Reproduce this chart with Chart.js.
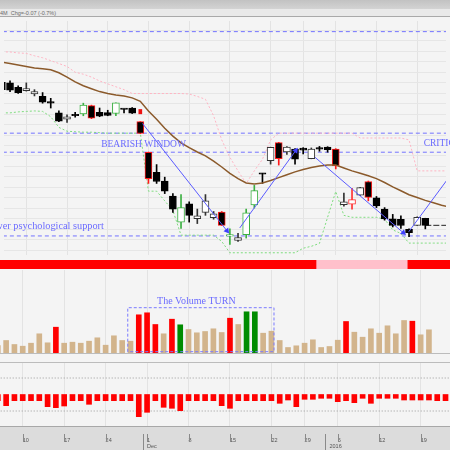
<!DOCTYPE html>
<html>
<head>
<meta charset="utf-8">
<title>Daily candles with volume</title>
<script src="https://cdn.jsdelivr.net/npm/chart.js@4.4.1/dist/chart.umd.min.js"></script>
<style>
  html, body { margin: 0; padding: 0; background: #f4f4f4; }
  #board { position: relative; width: 450px; height: 450px; overflow: hidden; background: #f4f4f4; }
  #board canvas { position: absolute; left: 0; }
  .head {
    position: absolute; left: 0; top: 0; width: 450px; height: 16px;
    background: linear-gradient(#c2c2c2, #d3d3d3 9px, #e9e9e9 9px, #e9e9e9);
    border-bottom: 1px solid #a9a9a9;
  }
  .head span {
    position: absolute; left: 0; top: 10px; white-space: nowrap;
    font: 5.5px/6px 'Liberation Sans', Arial, sans-serif; color: #6a6a6a;
  }
  .rule { position: absolute; left: 0; width: 450px; height: 1px; background: #bcbcbc; }
</style>
</head>
<body>
<div id="board">
  <div class="head"><span>4M &nbsp;Chg=-0.07 (-0.7%)</span></div>
  <canvas id="priceChart" width="450" height="242" style="top:17px"></canvas>
  <canvas id="trendStrip" width="450" height="9" style="top:260px"></canvas>
  <canvas id="volumeChart" width="450" height="83" style="top:270px"></canvas>
  <div class="rule" style="top:353px"></div>
  <div class="rule" style="top:362px"></div>
  <canvas id="oscChart" width="450" height="87" style="top:363px"></canvas>
</div>
<script>
// trading days, one slot each (the last ones are empty slots to the right edge)
const days = [
  'Nov 5', 'Nov 6', 'Nov 9', 'Nov 10', 'Nov 11', 'Nov 12', 'Nov 13', 'Nov 16', 'Nov 17', 'Nov 18',
  'Nov 19', 'Nov 20', 'Nov 23', 'Nov 24', 'Nov 25', 'Nov 26', 'Nov 27', 'Nov 30', 'Dec 1', 'Dec 2',
  'Dec 3', 'Dec 4', 'Dec 7', 'Dec 8', 'Dec 9', 'Dec 10', 'Dec 11', 'Dec 14', 'Dec 15', 'Dec 16',
  'Dec 17', 'Dec 18', 'Dec 21', 'Dec 22', 'Dec 23', 'Dec 24', 'Dec 28', 'Dec 29', 'Dec 30', 'Dec 31',
  'Jan 4', 'Jan 5', 'Jan 6', 'Jan 7', 'Jan 8', 'Jan 11', 'Jan 12', 'Jan 13', 'Jan 14', 'Jan 15',
  'Jan 18', 'Jan 19', 'Jan 20', 'Jan 21', 'Jan 22', 'Jan 25'
];

const weekTicks = [3, 8, 13, 18, 23, 28, 33, 37, 41, 46, 51];
const weekLabels = ['10', '17', '24', '1', '8', '15', '22', '29', '5', '12', '19'];
const monthTicks = [18, 40];
const monthLabels = ['Dec', '2016'];

// OHLC
const openP = [11.195, 11.19, 11.145, 11.11, 11.075, 11.05, 10.985, 10.88, 10.815, 10.865,
  10.87, 10.955, 10.885, 10.883, 10.873, 10.92, 10.93, 10.79, 10.473, 10.265,
  10.175, 10.02, 9.75, 9.94, 9.785, 9.85, 9.795, 9.855, 9.61, 9.56,
  9.62, 9.927, 10.25, 10.385, 10.573, 10.475, 10.505, 10.515, 10.407, 10.51,
  10.527, 10.505, 9.93, 9.935, 10.03, 10.17, 10.00, 9.885, 9.783, 9.78,
  9.675, 9.717, 9.79];
const highP = [11.21, 11.21, 11.16, 11.19, 11.12, 11.09, 11.03, 10.90, 10.86, 10.885,
  10.98, 10.96, 10.93, 10.907, 10.985, 10.92, 10.935, 10.79, 10.475, 10.345,
  10.215, 10.045, 10.035, 9.96, 9.885, 10.035, 9.86, 9.86, 9.68, 9.635,
  9.885, 10.13, 10.255, 10.525, 10.575, 10.53, 10.51, 10.52, 10.517, 10.533,
  10.53, 10.51, 10.05, 10.10, 10.11, 10.175, 10.015, 9.90, 9.83, 9.815,
  9.68, 9.805, 9.79];
const lowP = [11.11, 11.10, 11.08, 11.105, 11.055, 10.98, 10.93, 10.79, 10.78, 10.835,
  10.85, 10.82, 10.84, 10.85, 10.85, 10.88, 10.873, 10.665, 10.15, 10.15,
  10.045, 9.85, 9.685, 9.75, 9.735, 9.82, 9.78, 9.715, 9.52, 9.55,
  9.585, 9.895, 10.15, 10.35, 10.34, 10.45, 10.35, 10.455, 10.405, 10.483,
  10.473, 10.30, 9.915, 9.885, 10.025, 9.97, 9.90, 9.77, 9.70, 9.685,
  9.60, 9.715, 9.68];
const closeP = [11.12, 11.115, 11.09, 11.13, 11.10, 10.99, 10.98, 10.795, 10.84, 10.85,
  10.96, 10.825, 10.845, 10.853, 10.983, 10.915, 10.877, 10.667, 10.20, 10.17,
  10.07, 9.885, 9.90, 9.82, 9.815, 9.97, 9.835, 9.717, 9.605, 9.59,
  9.845, 10.075, 10.245, 10.523, 10.407, 10.525, 10.40, 10.495, 10.505, 10.505,
  10.50, 10.335, 9.96, 9.983, 10.107, 10.005, 9.917, 9.783, 9.715, 9.715,
  9.64, 9.80, 9.717];
// k black, w hollow, g green hollow, r black with red edge, o red hollow
const candleCodes = 'kkkwwkkkwk' + 'grkkgkkrrk' + 'kkgkwwwrgw' + 'ggkwrwkkwk' + 'krwowrkkkk' + 'kwk';

const avgLine = [11.405, 11.39, 11.375, 11.36, 11.345, 11.335, 11.325, 11.295, 11.25, 11.20,
  11.16, 11.13, 11.10, 11.08, 11.065, 11.055, 11.035, 11.00, 10.90, 10.815,
  10.72, 10.64, 10.57, 10.52, 10.475, 10.435, 10.38, 10.32, 10.255, 10.20,
  10.155, 10.145, 10.155, 10.18, 10.21, 10.24, 10.27, 10.295, 10.315, 10.33,
  10.34, 10.34, 10.31, 10.28, 10.255, 10.23, 10.20, 10.16, 10.115, 10.075,
  10.033, 10.005, 9.975, 9.95, 9.925, 9.905];
const upperBand = [11.51, 11.51, 11.50, 11.495, 11.47, 11.45, 11.42, 11.39, 11.36, 11.30,
  11.28, 11.25, 11.21, 11.18, 11.15, 11.12, 11.08, 11.08, 11.08, 11.08,
  11.08, 11.08, 11.08, 11.075, 11.05, 11.02, 10.85, 10.60, 10.42, 10.28,
  10.15, 10.28, 10.40, 10.60, 10.67, 10.67, 10.67, 10.67, 10.67, 10.67,
  10.67, 10.67, 10.67, 10.67, 10.62, 10.62, 10.62, 10.62, 10.62, 10.62,
  10.60, 10.28, 10.28, 10.28, 10.28, 10.28];
const lowerBand = [10.88, 10.88, 10.89, 10.895, 10.90, 10.895, 10.84, 10.73, 10.69, 10.685,
  10.68, 10.68, 10.675, 10.67, 10.67, 10.67, 10.67, 10.67, 10.07, 10.07,
  9.97, 9.87, 9.615, 9.615, 9.615, 9.615, 9.615, 9.55, 9.433, 9.433,
  9.433, 9.433, 9.433, 9.433, 9.433, 9.433, 9.433, 9.48, 9.50, 9.53,
  9.80, 10.067, 9.82, 9.80, 9.80, 9.80, 9.80, 9.78, 9.67, 9.633,
  9.533, 9.533, 9.533, 9.533, 9.533, 9.533];

const levelLines = [11.72, 10.67, 10.473, 9.607];
const trendFrom = [[17.27, 10.77], [29.21, 9.69], [38.46, 10.42], [49.96, 9.65]];
const trendTo = [[27.64, 9.66], [36.09, 10.49], [49.3, 9.64], [54.79, 10.20]];
const trendHead = [true, true, true, false];
const signalIdx = [17];
const signalTop = [10.915];
const signalBottom = [10.87];

const priceNotes = ['BEARISH WINDOW', 'CRITICAL', 'Lower psychological support'];
const priceNoteX = [12.2, 51.8, 12.53];
const priceNoteY = [10.527, 10.54, 9.68];
const priceNoteAlign = ['left', 'left', 'right'];
const priceNoteSize = [9.5, 9.5, 10.3];

// volume, thousands
const volumes = [75, 125, 85, 68, 98, 192, 102, 258, 98, 108,
  98, 118, 152, 78, 172, 125, 118, 382, 402, 285,
  192, 338, 282, 235, 202, 215, 242, 205, 348, 285,
  412, 412, 198, 218, 125, 55, 72, 98, 132, 55,
  65, 128, 315, 208, 158, 242, 198, 272, 192, 325,
  318, 182, 232];
const volumeCodes = 'tttttttrtt' + 'tttttttrrr' + 'trgtttttrt' + 'ggtttttttt' + 'ttrttttttt' + 'rtt';
const volumeBoxX = [15.67, 33.31];
const volumeBoxY = [13, 453];
const volumeNotes = ['The Volume TURN'];
const volumeNoteX = [19.2];
const volumeNoteY = [490];
const volumeNoteAlign = ['left'];
const volumeNoteSize = [10];

// state strip above the volume panel: r red, p pink
const stripCodes = 'rrrrrrrrrr' + 'rrrrrrrrrr' + 'rrrrrrrrrr' + 'rrrrrrrrrp' + 'pppppppppp' + 'rrrrrr';

// lower oscillator
const oscValues = [-0.062, -0.112, -0.062, -0.062, -0.062, -0.062, -0.122, -0.132, -0.115, -0.062,
  -0.062, -0.098, -0.062, -0.062, -0.062, -0.062, -0.062, -0.222, -0.178, -0.062,
  -0.128, -0.138, -0.162, -0.062, -0.062, -0.062, -0.062, -0.112, -0.138, -0.062,
  -0.062, -0.062, -0.062, -0.062, -0.088, -0.055, -0.122, -0.048, -0.048, -0.038,
  -0.038, -0.072, -0.062, -0.082, -0.038, -0.088, -0.038, -0.038, -0.038, -0.055,
  -0.055, -0.055, -0.055, -0.062, -0.062];
const oscLevels = [-0.165, 0.165];

const X_MIN = 0.26, X_MAX = 54.54;
const candleLook = {
  k: { fill: '#000000', line: '#000000' },
  w: { fill: '#ffffff', line: '#333333' },
  g: { fill: '#ffffff', line: '#3cb043' },
  r: { fill: '#000000', line: '#ff1a1a' },
  o: { fill: '#ffffff', line: '#ff3333' }
};
const volumeLook = { t: '#d2b48c', r: '#ff0000', g: '#008c00' };
const stripLook = { r: '#ff0000', p: '#ffc0cb' };
const NOTE_COLOR = '#6b6bff';

Chart.defaults.font.family = "'Liberation Sans', Arial, sans-serif";
Chart.defaults.animation = false;

const notePlugin = {
  id: 'notes',
  afterDatasetsDraw(chart, args, opts) {
    const { ctx, scales: { x, y } } = chart;
    ctx.save();
    ctx.fillStyle = NOTE_COLOR;
    ctx.textBaseline = 'alphabetic';
    opts.text.forEach((t, k) => {
      ctx.font = opts.size[k] + 'px "Liberation Serif", "Times New Roman", serif';
      ctx.textAlign = opts.align[k];
      ctx.fillText(t, x.getPixelForValue(opts.x[k]), y.getPixelForValue(opts.y[k]));
    });
    ctx.restore();
  }
};

const bandPlugin = {
  id: 'dateBand',
  beforeDraw(chart) {
    const { ctx, chartArea } = chart;
    ctx.save();
    ctx.fillStyle = '#dcdcdc';
    ctx.fillRect(0, chartArea.bottom, chart.width, chart.height - chartArea.bottom);
    ctx.restore();
  },
  afterDraw(chart) {
    const { ctx, chartArea } = chart;
    const xs = chart.scales.x;
    ctx.save();
    ctx.strokeStyle = '#8a8a8a';
    ctx.lineWidth = 1;
    ctx.beginPath();
    weekTicks.forEach(i => {
      const px = Math.round(xs.getPixelForValue(i)) + 0.5;
      ctx.moveTo(px, chartArea.bottom + 8);
      ctx.lineTo(px, chartArea.bottom + 16);
    });
    monthTicks.forEach(i => {
      const px = Math.round(xs.getPixelForValue(i - 0.5)) + 0.5;
      ctx.moveTo(px, chartArea.bottom + 8);
      ctx.lineTo(px, chart.height);
    });
    ctx.stroke();
    ctx.restore();
  }
};

function xAxis(withLabels) {
  return {
    type: 'linear', min: X_MIN, max: X_MAX, offset: false,
    afterBuildTicks: s => {
      const all = withLabels ? weekTicks.concat(monthTicks.filter(m => !weekTicks.includes(m))) : weekTicks;
      s.ticks = all.map(v => ({ value: v }));
    },
    ticks: {
      display: withLabels, autoSkip: false, maxRotation: 0, minRotation: 0, align: 'start',
      padding: 12, color: '#555', font: { size: 5.5, lineHeight: 1 },
      callback: v => {
        const w = weekTicks.indexOf(v), m = monthTicks.indexOf(v);
        return [w >= 0 ? weekLabels[w] : '', m >= 0 ? monthLabels[m] : ''];
      }
    },
    grid: { color: ctx => weekTicks.includes(ctx.tick && ctx.tick.value) ? '#e3e3e3' : 'rgba(0,0,0,0)', drawTicks: false, offset: false },
    border: { display: withLabels, color: '#a8a8a8' },
    afterFit: s => { s.height = withLabels ? 24 : 0; }
  };
}

function yAxis(min, max, gridTicks) {
  return {
    min, max,
    afterBuildTicks: s => { s.ticks = (gridTicks || []).map(v => ({ value: v })); },
    ticks: { display: false },
    grid: { color: '#e6e6e6', drawTicks: false },
    border: { display: false },
    afterFit: s => { s.width = 0; }
  };
}

function flatLine(yv, color, dash, order) {
  return {
    type: 'line', order, data: [{ x: X_MIN - 1, y: yv }, { x: X_MAX + 1, y: yv }],
    borderColor: color, borderWidth: 1, borderDash: dash, pointRadius: 0
  };
}

function seriesLine(values, color, width, dash, order) {
  return {
    type: 'line', order, data: values.map((v, i) => ({ x: i, y: v })),
    borderColor: color, borderWidth: width, borderDash: dash, pointRadius: 0, tension: 0
  };
}

const baseOptions = {
  responsive: false, devicePixelRatio: 1, animation: false,
  layout: { padding: 0 },
  events: [],
  plugins: { legend: { display: false }, tooltip: { enabled: false } }
};

// price panel
const priceGrid = [];
for (let k = -4; k <= 17; k++) priceGrid.push(11.30 - k * 0.1082);

const headRotation = ctx => {
  const d = ctx.dataset.data, xs = ctx.chart.scales.x, ys = ctx.chart.scales.y;
  const dx = xs.getPixelForValue(d[1].x) - xs.getPixelForValue(d[0].x);
  const dy = ys.getPixelForValue(d[1].y) - ys.getPixelForValue(d[0].y);
  return Math.atan2(dy, dx) * 180 / Math.PI + 90;
};

const trendSets = trendFrom.map((p, k) => ({
  type: 'line', order: 0,
  data: [{ x: p[0], y: p[1] }, { x: trendTo[k][0], y: trendTo[k][1] }],
  borderColor: '#5a5aff', borderWidth: 1,
  pointStyle: 'triangle', pointRadius: [0, trendHead[k] ? 3.5 : 0],
  pointBackgroundColor: '#3f3fff', pointBorderColor: '#3f3fff', pointBorderWidth: 0,
  pointRotation: headRotation
}));

const lastClose = closeP[closeP.length - 1];
const lastIdx = closeP.length - 1;

new Chart(document.getElementById('priceChart'), {
  type: 'bar',
  data: {
    datasets: [
      ...trendSets,
      seriesLine(avgLine, '#8b5a2b', 1.5, [], 1),
      {
        type: 'bar', order: 2, grouped: false,
        data: signalIdx.map((x, k) => ({ x, y: [signalBottom[k], signalTop[k]] })),
        backgroundColor: '#ee1111', barThickness: 3, borderWidth: 0
      },
      {
        type: 'bar', order: 2, grouped: false,
        data: openP.map((o, i) => ({ x: i, y: [o, closeP[i]] })),
        backgroundColor: candleCodes.split('').map(c => candleLook[c].fill),
        borderColor: candleCodes.split('').map(c => candleLook[c].line),
        borderWidth: 1, borderSkipped: false, barThickness: 7, minBarLength: 1.5
      },
      {
        type: 'bar', order: 3, grouped: false,
        data: lowP.map((l, i) => ({ x: i, y: [l, highP[i]] })),
        backgroundColor: candleCodes.split('').map(c => candleLook[c].line),
        borderWidth: 0, barThickness: 1
      },
      {
        type: 'line', order: 3,
        data: [{ x: lastIdx, y: lastClose }, { x: X_MAX + 2, y: lastClose }],
        borderColor: '#222', borderWidth: 1, borderDash: [6, 2], pointRadius: 0
      },
      seriesLine(upperBand, '#ffb4c3', 1, [2, 2], 4),
      seriesLine(lowerBand, '#7edc7e', 1, [2, 2], 4),
      ...levelLines.map(v => flatLine(v, '#7373ff', [4, 3], 5))
    ]
  },
  options: {
    ...baseOptions,
    scales: { x: xAxis(false), y: yAxis(9.41, 11.83, priceGrid) },
    plugins: {
      ...baseOptions.plugins,
      notes: { text: priceNotes, x: priceNoteX, y: priceNoteY, align: priceNoteAlign, size: priceNoteSize }
    }
  },
  plugins: [notePlugin]
});

// state strip
new Chart(document.getElementById('trendStrip'), {
  type: 'bar',
  data: {
    datasets: [{
      data: stripCodes.split('').map((c, i) => ({ x: i, y: 1 })),
      backgroundColor: stripCodes.split('').map(c => stripLook[c]),
      borderWidth: 0, barThickness: 9, grouped: false
    }]
  },
  options: {
    ...baseOptions,
    scales: {
      x: { type: 'linear', min: X_MIN, max: X_MAX, offset: false, display: false },
      y: { min: 0, max: 1, display: false }
    }
  }
});

// volume panel
const boxPath = [
  { x: volumeBoxX[0], y: volumeBoxY[0] }, { x: volumeBoxX[0], y: volumeBoxY[1] },
  { x: volumeBoxX[1], y: volumeBoxY[1] }, { x: volumeBoxX[1], y: volumeBoxY[0] },
  { x: volumeBoxX[0], y: volumeBoxY[0] }
];

new Chart(document.getElementById('volumeChart'), {
  type: 'bar',
  data: {
    datasets: [
      {
        type: 'line', order: 0, data: boxPath,
        borderColor: '#7a7aff', borderWidth: 1, borderDash: [3, 2], pointRadius: 0
      },
      {
        type: 'bar', order: 1, grouped: false,
        data: volumes.map((v, i) => ({ x: i, y: v })),
        backgroundColor: volumeCodes.split('').map(c => volumeLook[c]),
        borderWidth: 0, barThickness: 5
      }
    ]
  },
  options: {
    ...baseOptions,
    scales: { x: xAxis(false), y: yAxis(0, 830, []) },
    plugins: {
      ...baseOptions.plugins,
      notes: { text: volumeNotes, x: volumeNoteX, y: volumeNoteY, align: volumeNoteAlign, size: volumeNoteSize }
    }
  },
  plugins: [notePlugin]
});

// oscillator panel with the date band
new Chart(document.getElementById('oscChart'), {
  type: 'bar',
  data: {
    datasets: [
      {
        type: 'bar', order: 1, grouped: false,
        data: oscValues.map((v, i) => ({ x: i, y: v })),
        backgroundColor: '#ff0000', borderWidth: 0, barThickness: 5
      },
      ...oscLevels.map(v => flatLine(v, '#9a9a9a', [1, 2], 2))
    ]
  },
  options: {
    ...baseOptions,
    scales: { x: xAxis(true), y: yAxis(-0.315, 0.315, []) }
  },
  plugins: [bandPlugin]
});
</script>
</body>
</html>
